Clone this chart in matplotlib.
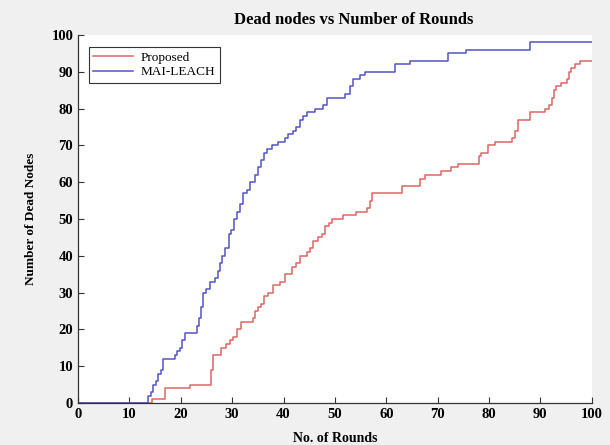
import matplotlib
matplotlib.use("Agg")
import matplotlib.pyplot as plt

# MAI-LEACH: (round, dead nodes) at each step change
leach_x = [0, 13.5, 13.7, 14.2, 14.6, 15.2, 15.6, 16.1, 16.6, 18.9, 19.2, 19.8, 20.2, 20.8,
           23.1, 23.5, 23.9, 24.4, 25.0, 25.7, 26.6, 27.2, 27.6, 28.0, 28.6, 29.3, 29.8,
           30.4, 30.9, 31.5, 32.2, 32.8, 33.5, 34.4, 35.0, 35.7, 36.2, 36.7, 37.7, 39.0,
           40.2, 40.9, 41.8, 42.5, 43.2, 43.8, 44.5, 46.1, 47.7, 48.4, 51.9, 52.9, 53.6,
           54.9, 55.8, 61.7, 64.6, 72.0, 75.6, 87.9, 100]
leach_y = [0, 0, 2, 3, 5, 6, 8, 9, 12, 13, 14, 15, 17, 19,
           21, 23, 26, 30, 31, 33, 34, 36, 38, 40, 42, 46, 47,
           50, 52, 54, 57, 58, 60, 62, 64, 66, 68, 69, 70, 71,
           72, 73, 74, 75, 77, 78, 79, 80, 81, 83, 84, 86, 88,
           89, 90, 92, 93, 95, 96, 98, 98]

# Proposed
prop_x = [0, 14.0, 14.3, 16.9, 21.7, 25.9, 26.3, 27.9, 28.8, 29.6, 30.2, 30.9, 31.8, 34.1,
          34.5, 35.1, 35.7, 36.2, 37.0, 38.0, 39.3, 40.3, 41.6, 42.4, 43.2, 44.5, 45.2,
          45.8, 46.8, 47.5, 48.1, 48.8, 49.4, 51.6, 54.2, 56.2, 56.8, 57.3, 63.0, 66.5,
          67.5, 70.7, 72.7, 74.0, 78.0, 78.4, 79.8, 81.1, 84.4, 85.0, 85.7, 87.9, 90.9,
          91.6, 92.2, 92.7, 93.1, 94.1, 95.1, 95.6, 96.0, 96.7, 97.7, 100]
prop_y = [0, 0, 1, 4, 5, 9, 13, 15, 16, 17, 18, 20, 22, 23,
          25, 26, 27, 29, 30, 32, 33, 35, 37, 38, 40, 41, 42,
          44, 45, 46, 48, 49, 50, 51, 52, 53, 55, 57, 59, 61,
          62, 63, 64, 65, 67, 68, 70, 71, 72, 74, 77, 79, 80,
          81, 83, 85, 86, 87, 88, 90, 91, 92, 93, 93]

x_ticks = list(range(0, 101, 10))
y_ticks = list(range(0, 101, 10))

SERIF = ["Liberation Serif", "DejaVu Serif"]
plt.rcParams["font.family"] = SERIF

fig = plt.figure(figsize=(6.1, 4.45), dpi=100)
fig.patch.set_facecolor("#f0f0f0")
ax = fig.add_axes([0.128, 0.0944, 0.842, 0.827])
ax.set_facecolor("white")

ax.plot(prop_x, prop_y, drawstyle="steps-post", color="#dc6464", lw=1.1, label="Proposed")
ax.plot(leach_x, leach_y, drawstyle="steps-post", color="#5454c8", lw=1.1, label="MAI-LEACH")

ax.set_xlim(0, 100)
ax.set_ylim(0, 100)
ax.set_xticks(x_ticks)
ax.set_yticks(y_ticks)
ax.tick_params(direction="in", length=4, width=0.8, colors="#333333", labelcolor="black",
               labelsize=10.5)
for lab in ax.get_xticklabels() + ax.get_yticklabels():
    lab.set_fontweight("bold")

for side in ("top", "right"):
    ax.spines[side].set_visible(False)
for side in ("left", "bottom"):
    ax.spines[side].set_color("#333333")
    ax.spines[side].set_linewidth(0.9)

ax.set_title("Dead nodes vs Number of Rounds", fontsize=12, fontweight="bold", x=0.537, pad=8)
ax.set_xlabel("No. of Rounds", fontsize=10, fontweight="bold", labelpad=8)
ax.set_ylabel("Number of Dead Nodes", fontsize=9.5, fontweight="bold", labelpad=10)

leg = ax.legend(loc="upper left", fontsize=9.5, frameon=True, fancybox=False,
                handlelength=3.0, borderpad=0.35, labelspacing=0.15, handletextpad=0.6,
                bbox_to_anchor=(0.008, 0.985))
leg.get_frame().set_edgecolor("black")
leg.get_frame().set_linewidth(0.8)

fig.savefig("out.png", dpi=100, facecolor=fig.get_facecolor())
